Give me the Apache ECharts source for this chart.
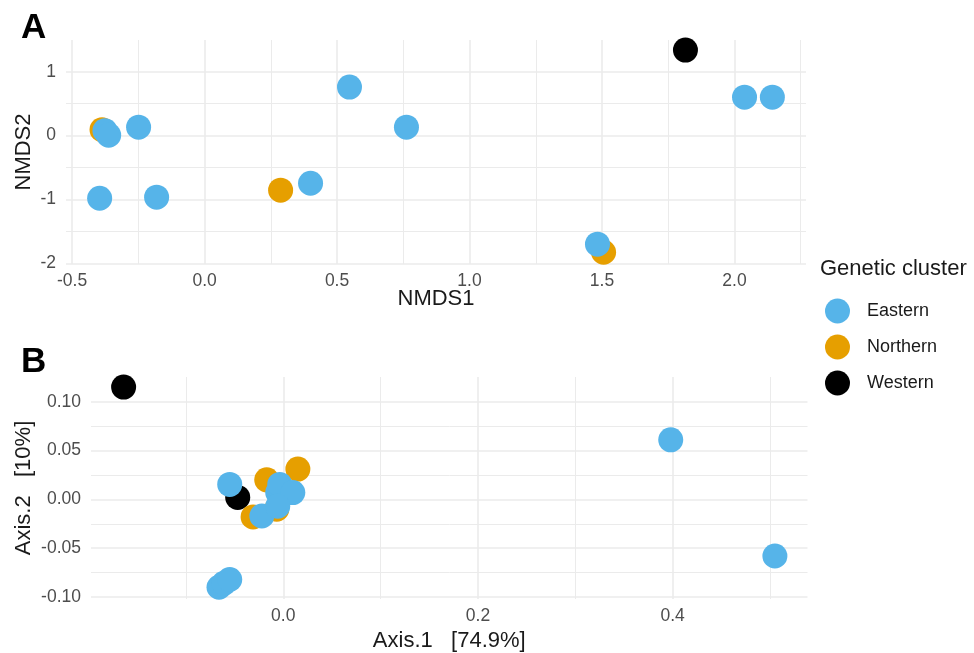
<!DOCTYPE html>
<html>
<head>
<meta charset="utf-8">
<script src="https://cdn.jsdelivr.net/npm/echarts@6/dist/echarts.min.js"></script>
<style>
html,body{margin:0;padding:0;background:#fff;}
#chart{width:974px;height:653px;}
</style>
</head>
<body>
<div id="chart"></div>
<script>
// ---- Data ----
const clusters = ['Eastern', 'Northern', 'Western'];

// Panel A: NMDS ordination [NMDS1, NMDS2]
const nmdsEastern = [[-0.376,0.078],[-0.362,0.008],[-0.249,0.133],[-0.396,-0.980],[-0.181,-0.964],[0.400,-0.745],[0.547,0.760],[0.762,0.133],[1.483,-1.700],[2.038,0.603],[2.143,0.603]];
const nmdsNorthern = [[-0.387,0.094],[0.287,-0.854],[1.506,-1.826]];
const nmdsWestern = [[1.815,1.340]];

// Panel B: PCoA [Axis.1, Axis.2]
const pcoaEastern = [[0.398,0.061],[0.505,-0.058],[-0.055,0.0153],[-0.066,-0.090],[-0.061,-0.086],[-0.055,-0.082],[-0.0057,0.007],[-0.0036,0.0153],[0.0098,0.007],[-0.022,-0.017],[-0.0057,-0.007]];
const pcoaNorthern = [[-0.017,0.020],[0.015,0.031],[-0.031,-0.018],[-0.0067,-0.010]];
const pcoaWestern = [[-0.164,0.115],[-0.0468,0.002]];

// Tick values
const xTicksA = [-0.5, 0, 0.5, 1, 1.5, 2];
const xMinorA = [-0.25, 0.25, 0.75, 1.25, 1.75, 2.25];
const yTicksA = [-2, -1, 0, 1];
const yMinorA = [-1.5, -0.5, 0.5];
const xTicksB = [0, 0.2, 0.4];
const xMinorB = [-0.1, 0.1, 0.3, 0.5];
const yTicksB = [-0.10, -0.05, 0, 0.05, 0.10];
const yMinorB = [-0.075, -0.025, 0.025, 0.075];

// ---- Styles ----
const colorMap = {Eastern: '#56B4E9', Northern: '#E69F00', Western: '#000000'};
const FONT = 'Liberation Sans, Arial, sans-serif';
const gridColor = '#ebebeb';
const tickColor = '#4d4d4d';

function majorAxis(gridIndex, min, max, ticks, fmt, name, nameGap, labelMargin) {
  return {
    type: 'value', gridIndex, min, max,
    name, nameLocation: 'middle', nameGap,
    nameMoveOverlap: false,
    nameTextStyle: {fontFamily: FONT, fontSize: 22, color: '#1a1a1a'},
    axisLine: {show: false, onZero: false},
    axisTick: {show: false, customValues: ticks},
    axisLabel: {customValues: ticks, formatter: fmt, color: tickColor, fontFamily: FONT, fontSize: 17.5, margin: labelMargin},
    splitLine: {show: true, lineStyle: {color: gridColor, width: 1.6}},
    minorSplitLine: {show: false}
  };
}
function minorAxis(gridIndex, min, max, ticks) {
  return {
    type: 'value', gridIndex, min, max,
    axisLine: {show: false, onZero: false},
    axisTick: {show: false, customValues: ticks},
    axisLabel: {show: false},
    splitLine: {show: true, lineStyle: {color: gridColor, width: 1}}
  };
}

const f1 = v => v.toFixed(1);
const f0 = v => v.toFixed(0);
const f2 = v => v.toFixed(2);

const xMinA = -0.523, xMaxA = 2.27, yMinA = -2.01, yMaxA = 1.498;
const xMinB = -0.1975, xMaxB = 0.5385, yMinB = -0.102, yMaxB = 0.1253;

const option = {
  backgroundColor: '#ffffff',
  animation: false,
  textStyle: {fontFamily: FONT},
  title: [
    {text: 'A', left: 21, top: 11, padding: 0, textStyle: {fontFamily: FONT, fontSize: 35, fontWeight: 'bold', color: '#000'}},
    {text: 'B', left: 21, top: 345, padding: 0, textStyle: {fontFamily: FONT, fontSize: 35, fontWeight: 'bold', color: '#000'}},
    {text: 'Genetic cluster', left: 820, top: 258, padding: 0, textStyle: {fontFamily: FONT, fontSize: 22, fontWeight: 'normal', color: '#1a1a1a'}}
  ],
  legend: {
    data: clusters,
    orient: 'vertical',
    left: 825, top: 298.5,
    itemWidth: 49, itemHeight: 25, itemGap: 11,
    icon: 'circle',
    selectedMode: false,
    padding: 0,
    textStyle: {fontFamily: FONT, fontSize: 18, color: '#1a1a1a'}
  },
  grid: [
    {left: 66, right: 168, top: 40, height: 224, containLabel: false},
    {left: 91, right: 166.5, top: 377, height: 223, containLabel: false}
  ],
  xAxis: [
    majorAxis(0, xMinA, xMaxA, xTicksA, f1, 'NMDS1', 24, 8),
    minorAxis(0, xMinA, xMaxA, xMinorA),
    majorAxis(1, xMinB, xMaxB, xTicksB, f1, 'Axis.1   [74.9%]', 31, 8),
    minorAxis(1, xMinB, xMaxB, xMinorB)
  ],
  yAxis: [
    majorAxis(0, yMinA, yMaxA, yTicksA, f0, 'NMDS2', 31, 10),
    minorAxis(0, yMinA, yMaxA, yMinorA),
    majorAxis(1, yMinB, yMaxB, yTicksB, f2, 'Axis.2   [10%]', 56, 10),
    minorAxis(1, yMinB, yMaxB, yMinorB)
  ],
  series: []
};

// Draw order: Western, Northern, Eastern (Eastern on top)
const drawOrder = ['Western', 'Northern', 'Eastern'];
const dataA = {Eastern: nmdsEastern, Northern: nmdsNorthern, Western: nmdsWestern};
const dataB = {Eastern: pcoaEastern, Northern: pcoaNorthern, Western: pcoaWestern};
drawOrder.forEach(name => {
  option.series.push({
    name, type: 'scatter', xAxisIndex: 0, yAxisIndex: 0,
    data: dataA[name], symbolSize: 25, clip: false,
    itemStyle: {color: colorMap[name], opacity: 1},
    emphasis: {disabled: true}
  });
  option.series.push({
    name, type: 'scatter', xAxisIndex: 2, yAxisIndex: 2,
    data: dataB[name], symbolSize: 25, clip: false,
    itemStyle: {color: colorMap[name], opacity: 1},
    emphasis: {disabled: true}
  });
});

const chart = echarts.init(document.getElementById('chart'), null, {renderer: 'canvas'});
chart.setOption(option);
</script>
</body>
</html>
